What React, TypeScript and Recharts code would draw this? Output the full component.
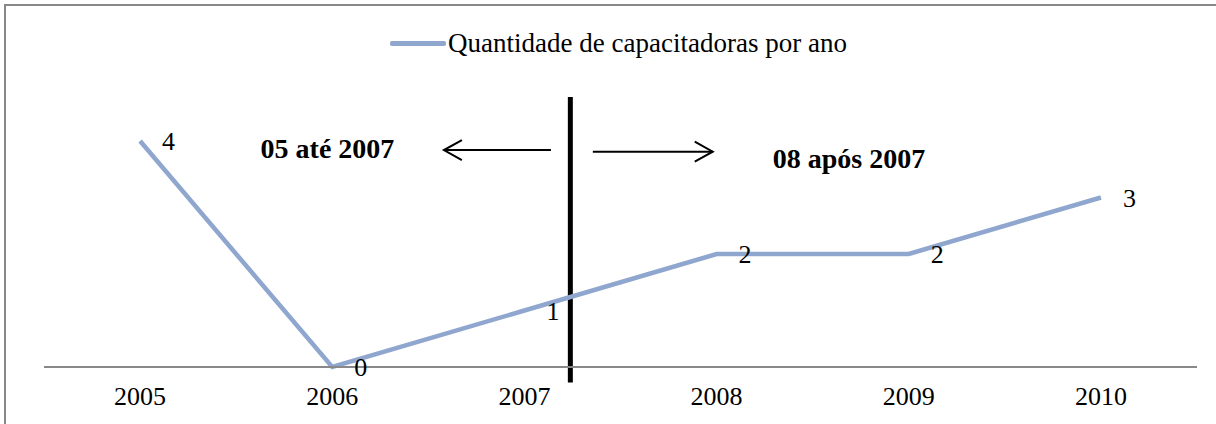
import { LineChart, Line, XAxis, YAxis, Legend, LabelList, ReferenceLine, ReferenceDot } from "recharts";

const years = ["2005", "2006", "2007", "2008", "2009", "2010"];
const quantidade = [4, 0, 1, 2, 2, 3];
const seriesName = "Quantidade de capacitadoras por ano";

const data = years.map((year, i) => ({ x: i, year, y: quantidade[i] }));

const LINE_COLOR = "#8FA6CE";
const FONT = "'Liberation Serif', 'Times New Roman', serif";

function arrowShape(props: any) {
  const { x1, y1, x2, y2 } = props;
  const dir = x2 > x1 ? -1 : 1;
  return (
    <g stroke="#000" strokeWidth={2} fill="none">
      <line x1={x1} y1={y1} x2={x2} y2={y2} />
      <polyline points={`${x2 + dir * 18},${y2 - 10} ${x2},${y2} ${x2 + dir * 18},${y2 + 10}`} />
    </g>
  );
}

function boldText(label: string) {
  return (props: any) => (
    <text
      x={props.cx}
      y={props.cy}
      textAnchor="middle"
      dominantBaseline="central"
      fontFamily={FONT}
      fontWeight="bold"
      fontSize={28}
      fill="#000"
    >
      {label}
    </text>
  );
}

function LegendContent() {
  return (
    <div style={{ display: "flex", alignItems: "center", justifyContent: "center", fontFamily: FONT }}>
      <span style={{ display: "inline-block", width: 56, height: 5, background: LINE_COLOR, borderRadius: 2 }} />
      <span style={{ fontSize: 27, color: "#000", marginLeft: 2 }}>{seriesName}</span>
    </div>
  );
}

export default function App() {
  return (
    <div style={{ position: "absolute", left: 0, top: 0, width: 1216, height: 424, overflow: "hidden", background: "#fff" }}>
      {/* chart frame: only top and left edges are visible in the crop */}
      <div
        style={{
          position: "absolute",
          left: 4,
          top: 4,
          width: 1212,
          height: 420,
          borderTop: "2px solid #888",
          borderLeft: "2px solid #888",
          pointerEvents: "none",
        }}
      />
      <LineChart width={1216} height={424} data={data} margin={{ top: 44.5, right: 19, bottom: 0, left: 44 }}>
        <XAxis
          type="number"
          dataKey="x"
          domain={[-0.5, 5.5]}
          ticks={[0, 1, 2, 3, 4, 5]}
          tickFormatter={(i: number) => years[i]}
          axisLine={{ stroke: "#888", strokeWidth: 2 }}
          tickLine={false}
          tickMargin={14}
          height={57}
          tick={{ fill: "#000", fontSize: 26, fontFamily: FONT }}
        />
        <YAxis hide domain={[0, 5]} />
        <Legend
          verticalAlign="top"
          height={40}
          wrapperStyle={{ top: 28, left: 21, width: 1195 }}
          content={<LegendContent />}
        />
        <ReferenceLine
          segment={[{ x: 2.239, y: 4.78 }, { x: 2.239, y: -0.275 }]}
          stroke="#000"
          strokeWidth={5}
          ifOverflow="visible"
        />
        <ReferenceLine segment={[{ x: 2.138, y: 3.84 }, { x: 1.581, y: 3.84 }]} ifOverflow="visible" shape={arrowShape} />
        <ReferenceLine segment={[{ x: 2.356, y: 3.81 }, { x: 2.98, y: 3.81 }]} ifOverflow="visible" shape={arrowShape} />
        <ReferenceDot x={0.975} y={3.87} ifOverflow="visible" shape={boldText("05 até 2007")} />
        <ReferenceDot x={3.689} y={3.69} ifOverflow="visible" shape={boldText("08 após 2007")} />
        <Line
          type="linear"
          dataKey="y"
          name={seriesName}
          stroke={LINE_COLOR}
          strokeWidth={4.5}
          dot={false}
          isAnimationActive={false}
        >
          <LabelList dataKey="y" position="right" offset={22} fill="#000" fontSize={26} fontFamily={FONT} />
        </Line>
      </LineChart>
    </div>
  );
}
